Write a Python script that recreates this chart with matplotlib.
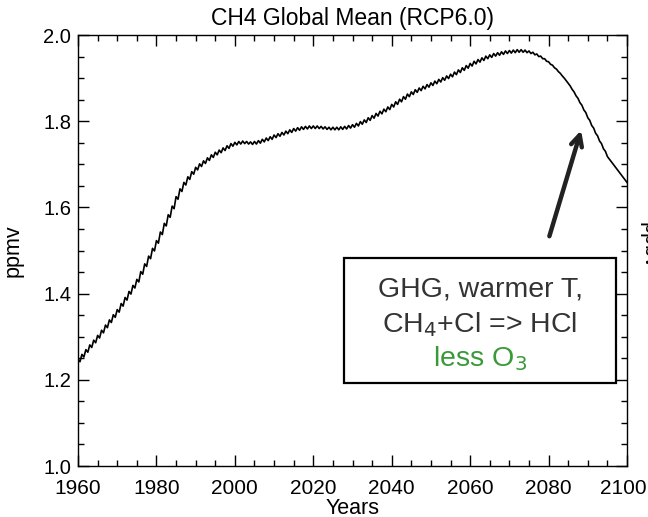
import matplotlib
matplotlib.use("Agg")
import matplotlib.pyplot as plt
import matplotlib.transforms as mtransforms
import numpy as np
from matplotlib.ticker import MultipleLocator

plt.rcParams['font.family'] = ['Liberation Sans', 'DejaVu Sans']

years = list(range(1960, 2101))
ch4_annual = [
    1.245, 1.256, 1.267, 1.278, 1.289, 1.300,
    1.312, 1.324, 1.336, 1.348, 1.360,
    1.374, 1.388, 1.402, 1.416, 1.430,
    1.448, 1.466, 1.484, 1.502, 1.520,
    1.540, 1.560, 1.580, 1.600, 1.622,
    1.640, 1.655, 1.668, 1.680, 1.690,
    1.698, 1.705, 1.712, 1.719, 1.725,
    1.730, 1.735, 1.740, 1.745, 1.748,
    1.750, 1.751, 1.750, 1.749, 1.750,
    1.752, 1.755, 1.758, 1.761, 1.765,
    1.768, 1.771, 1.774, 1.777, 1.780,
    1.782, 1.784, 1.785, 1.786, 1.786,
    1.786, 1.785, 1.784, 1.783, 1.783,
    1.783, 1.784, 1.785, 1.787, 1.789,
    1.792, 1.796, 1.800, 1.805, 1.810,
    1.815, 1.820, 1.825, 1.830, 1.836,
    1.842, 1.848, 1.854, 1.860, 1.865,
    1.870, 1.874, 1.878, 1.882, 1.886,
    1.890, 1.894, 1.898, 1.902, 1.906,
    1.911, 1.916, 1.921, 1.926, 1.931,
    1.936, 1.940, 1.944, 1.948, 1.951,
    1.954, 1.956, 1.958, 1.960, 1.961,
    1.962, 1.963, 1.963, 1.962, 1.960,
    1.957, 1.953, 1.948, 1.942, 1.935,
    1.927, 1.918, 1.908, 1.897, 1.885,
    1.871, 1.856, 1.840, 1.823, 1.805,
    1.787, 1.769, 1.751, 1.733, 1.715,
    1.703, 1.691, 1.679, 1.667, 1.655,
]
# half-year seasonal anomaly (early, late in year)
season_offset = [0.0, 0.5]
season_anom = [0.003, -0.003]

x_tick_labels = ['1960', '1980', '2000', '2020', '2040', '2060', '2080', '2100']
y_tick_labels = ['1.0', '1.2', '1.4', '1.6', '1.8', '2.0']

t = []
v = []
for yr, val in zip(years, ch4_annual):
    for off, an in zip(season_offset, season_anom):
        t.append(yr + off)
        v.append(val + an)

fig = plt.figure(figsize=(6.48, 5.17), dpi=100)
ax = fig.add_axes([0.1204, 0.0986, 0.9676 - 0.1204, 0.9323 - 0.0986])
ax.plot(t, v, color='black', lw=1.2)
ax.set_xlim(1960, 2100)
ax.set_ylim(1.0, 2.0)
ax.set_xticks([int(s) for s in x_tick_labels])
ax.set_xticklabels(x_tick_labels)
ax.set_yticks([float(s) for s in y_tick_labels])
ax.set_yticklabels(y_tick_labels)
ax.xaxis.set_minor_locator(MultipleLocator(5))
ax.yaxis.set_minor_locator(MultipleLocator(0.05))
ax.tick_params(which='both', direction='in', top=True, right=True)
ax.tick_params(axis='x', labelsize=15, pad=9)
ax.tick_params(axis='y', labelsize=14.5, pad=5)
ax.tick_params(which='major', length=8, width=1)
ax.tick_params(which='minor', length=4, width=1)
for s in ax.spines.values():
    s.set_linewidth(1)

# nudge last x label left so it stays inside the figure
last = ax.get_xticklabels()[-1]
last.set_transform(last.get_transform() + mtransforms.ScaledTranslation(-4/100, 0, fig.dpi_scale_trans))

ax.set_title('CH4 Global Mean (RCP6.0)', fontsize=16.5, pad=7)
ax.set_xlabel('Years', fontsize=15.5, labelpad=0)
ax.set_ylabel('ppmv', fontsize=15.5, labelpad=14)

fig.text(639/648, 1 - 245/517, 'ppbv', rotation=270, fontsize=15.5, ha='left', va='center')

# annotation box
bx0, bx1 = 344/648, 616/648
by0, by1 = 1 - 383/517, 1 - 258/517
rect = plt.Rectangle((bx0, by0), bx1 - bx0, by1 - by0, transform=fig.transFigure,
                     fill=True, facecolor='white', edgecolor='black', lw=1.6, zorder=5)
fig.patches.append(rect)
cx = (bx0 + bx1) / 2
fig.text(cx, 1 - 290/517, 'GHG, warmer T,', fontsize=20.5, color='#333333', ha='center', va='center', zorder=6)
fig.text(cx, 1 - 325/517, r'CH$_4$+Cl => HCl', fontsize=20.5, color='#333333', ha='center', va='center', zorder=6)
fig.text(cx, 1 - 359/517, r'less O$_3$', fontsize=20.5, color='#3a9a3a', ha='center', va='center', zorder=6)

# arrow
ax.annotate('', xy=(2088.5, 1.785), xycoords='data',
            xytext=(2080.0, 1.527), textcoords='data',
            arrowprops=dict(arrowstyle='->,head_length=0.8,head_width=0.4', lw=3.2, color='#222222'))

fig.savefig('out.png', dpi=100)
